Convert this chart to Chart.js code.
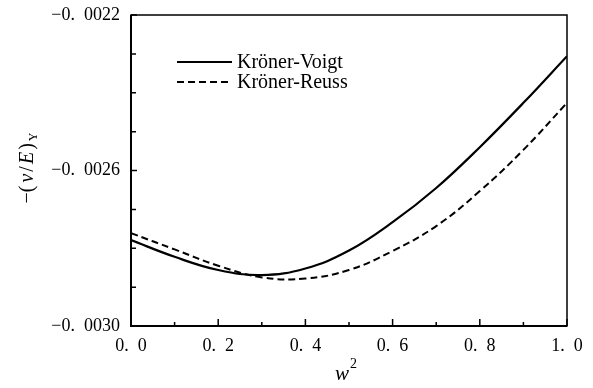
<!DOCTYPE html>
<html>
<head>
<meta charset="utf-8">
<script src="https://cdn.jsdelivr.net/npm/chart.js@4"></script>
<style>
  html, body { margin: 0; padding: 0; background: #fff; }
  #wrap { width: 593px; height: 388px; }
</style>
</head>
<body>
<div id="wrap"><canvas id="nuChart" width="593" height="388"></canvas></div>
<script>
const wSq = [0.0, 0.1, 0.2, 0.3, 0.4, 0.5, 0.6, 0.7, 0.8, 0.9, 1.0];
const kronerVoigt = [-0.002779, -0.002822, -0.002856, -0.002869, -0.002852, -0.002806, -0.002733, -0.002645, -0.002540, -0.002426, -0.002306];
const kronerReuss = [-0.002761, -0.002803, -0.002845, -0.002875, -0.002878, -0.002856, -0.002807, -0.002743, -0.002653, -0.002547, -0.002426];
const seriesNames = ['Kröner-Voigt', 'Kröner-Reuss'];
const xTickValues = [0.0, 0.2, 0.4, 0.6, 0.8, 1.0];
const xMinorValues = [0.1, 0.3, 0.5, 0.7, 0.9];
const yTickValues = [-0.0030, -0.0026, -0.0022];
const yMinorValues = [-0.0029, -0.0028, -0.0027, -0.0025, -0.0024, -0.0023];

const serif = '"Liberation Serif", "DejaVu Serif", serif';

const fmtX = v => v.toFixed(1).replace('.', '.\u2002');
const fmtY = v => (v < 0 ? '\u2212' : '') + Math.abs(v).toFixed(4).replace('.', '.\u2002');

// frame, inward ticks, legend and axis titles
const decorations = {
    id: 'decorations',
    afterDraw(chart) {
        const { ctx, chartArea: a, scales: { x, y } } = chart;
        ctx.save();
        ctx.strokeStyle = '#000';
        ctx.lineWidth = 1.5;
        ctx.strokeRect(a.left, a.top, a.right - a.left, a.bottom - a.top);
        ctx.lineWidth = 2;
        ctx.beginPath();
        ctx.moveTo(a.left, a.top);
        ctx.lineTo(a.left, a.bottom);
        ctx.lineTo(a.right, a.bottom);
        ctx.stroke();

        ctx.lineWidth = 1.5;
        ctx.beginPath();
        xTickValues.forEach(v => { const px = x.getPixelForValue(v); ctx.moveTo(px, a.bottom); ctx.lineTo(px, a.bottom - 7); });
        xMinorValues.forEach(v => { const px = x.getPixelForValue(v); ctx.moveTo(px, a.bottom); ctx.lineTo(px, a.bottom - 4); });
        yTickValues.forEach(v => { const py = y.getPixelForValue(v); ctx.moveTo(a.left, py); ctx.lineTo(a.left + 6, py); });
        yMinorValues.forEach(v => { const py = y.getPixelForValue(v); ctx.moveTo(a.left, py); ctx.lineTo(a.left + 5, py); });
        ctx.stroke();

        // legend
        chart.data.datasets.forEach((ds, i) => {
            const ly = 62 + i * 20;
            ctx.lineWidth = ds.borderWidth;
            ctx.setLineDash(ds.borderDash || []);
            ctx.beginPath();
            ctx.moveTo(177, ly);
            ctx.lineTo(232, ly);
            ctx.stroke();
            ctx.setLineDash([]);
            ctx.fillStyle = '#000';
            ctx.font = '20px ' + serif;
            ctx.textBaseline = 'alphabetic';
            ctx.textAlign = 'left';
            ctx.fillText(ds.label, 237, ly + 6);
        });

        // x title: w^2
        ctx.fillStyle = '#000';
        ctx.textBaseline = 'alphabetic';
        ctx.textAlign = 'left';
        ctx.font = 'italic 21px ' + serif;
        ctx.fillText('w', 335, 380);
        ctx.font = '14px ' + serif;
        ctx.fillText('2', 350, 368);

        // y title: -(nu/E)_Y
        ctx.translate(33, 168);
        ctx.rotate(-Math.PI / 2);
        const parts = [
            ['\u2212(', '20px ' + serif, 0, 3],
            ['\u03bd', 'italic 20px ' + serif, 0, 2],
            ['/', '20px ' + serif, 0, 2],
            ['E', 'italic 20px ' + serif, 0, 2],
            [')', '20px ' + serif, 0, 2],
            ['Y', '12px ' + serif, 4, 0]
        ];
        let total = 0;
        parts.forEach(p => { ctx.font = p[1]; total += ctx.measureText(p[0]).width + p[3]; });
        let cx = -total / 2;
        parts.forEach(p => {
            ctx.font = p[1];
            ctx.fillText(p[0], cx, p[2]);
            cx += ctx.measureText(p[0]).width + p[3];
        });
        ctx.restore();
    }
};

new Chart(document.getElementById('nuChart'), {
    type: 'line',
    data: {
        datasets: [{
            label: seriesNames[0],
            data: wSq.map((w, i) => ({ x: w, y: kronerVoigt[i] })),
            borderColor: '#000',
            borderWidth: 2.2,
            pointRadius: 0,
            tension: 0.4,
            fill: false
        }, {
            label: seriesNames[1],
            data: wSq.map((w, i) => ({ x: w, y: kronerReuss[i] })),
            borderColor: '#000',
            borderWidth: 2,
            borderDash: [7, 4],
            pointRadius: 0,
            tension: 0.4,
            fill: false
        }]
    },
    options: {
        responsive: false,
        animation: false,
        layout: { padding: { left: 0, top: 15, right: 26, bottom: 0 } },
        plugins: {
            legend: { display: false },
            tooltip: { enabled: false }
        },
        scales: {
            x: {
                type: 'linear',
                min: 0,
                max: 1,
                afterBuildTicks: s => { s.ticks = xTickValues.map(v => ({ value: v })); },
                afterFit: s => { s.height = 62; s.paddingLeft = 0; s.paddingRight = 0; },
                grid: { display: false, drawTicks: false },
                border: { display: false },
                ticks: {
                    color: '#000',
                    font: { family: serif, size: 18 },
                    padding: 9,
                    maxRotation: 0,
                    callback: v => fmtX(v)
                }
            },
            y: {
                type: 'linear',
                min: -0.0030,
                max: -0.0022,
                afterBuildTicks: s => { s.ticks = yTickValues.map(v => ({ value: v })); },
                afterFit: s => { s.width = 131; s.paddingTop = 0; s.paddingBottom = 0; },
                grid: { display: false, drawTicks: false },
                border: { display: false },
                ticks: {
                    color: '#000',
                    font: { family: serif, size: 18 },
                    padding: 11,
                    callback: v => fmtY(v)
                }
            }
        }
    },
    plugins: [decorations]
});
</script>
</body>
</html>
